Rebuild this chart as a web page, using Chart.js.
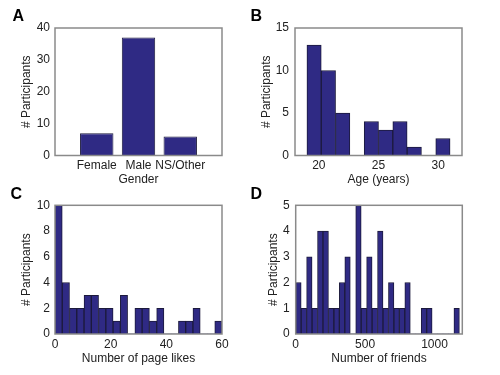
<!DOCTYPE html>
<html><head><meta charset="utf-8">
<script src="https://cdn.jsdelivr.net/npm/chart.js@4"></script>
<style>
html,body{margin:0;padding:0;background:#fff;}
#wrap{position:relative;width:500px;height:375px;overflow:hidden;background:#fff;}
canvas{position:absolute;}
.lbl{position:absolute;font:bold 16px "Liberation Sans",Arial,sans-serif;color:#000;line-height:1;}
</style></head><body>
<div id="wrap">
<canvas id="cA" width="250" height="190" style="left:0;top:0"></canvas>
<canvas id="cB" width="250" height="190" style="left:250px;top:0"></canvas>
<canvas id="cC" width="250" height="185" style="left:0;top:190px"></canvas>
<canvas id="cD" width="250" height="185" style="left:250px;top:190px"></canvas>
<div class="lbl" style="left:12.5px;top:8px">A</div>
<div class="lbl" style="left:250.5px;top:8px">B</div>
<div class="lbl" style="left:10.5px;top:186px">C</div>
<div class="lbl" style="left:250.5px;top:186px">D</div>
</div>
<script>
// ---- Data ----
const genderCategories = ['Female', 'Male', 'NS/Other'];
const genderPositions = [1, 2, 3];
const genderCounts = [7, 37, 6];
const genderYTicks = [0, 10, 20, 30, 40];

const ageBinCenters = [19.6, 20.8, 22.0, 23.2, 24.4, 25.6, 26.8, 28.0, 29.2, 30.4];
const ageCounts = [13, 10, 5, 0, 4, 3, 4, 1, 0, 2];
const ageXTicks = [20, 25, 30];
const ageYTicks = [0, 5, 10, 15];

const likesBinCenters = [1.3, 3.91, 6.52, 9.13, 11.74, 14.35, 16.96, 19.57, 22.17, 24.78, 27.39, 30.0,
  32.61, 35.22, 37.83, 40.43, 43.04, 45.65, 48.26, 50.87, 53.48, 56.09, 58.7];
const likesCounts = [10, 4, 2, 2, 3, 3, 2, 2, 1, 3, 0, 2, 2, 1, 2, 0, 0, 1, 1, 2, 0, 0, 1];
const likesXTicks = [0, 20, 40, 60];
const likesYTicks = [0, 2, 4, 6, 8, 10];

const friendsBinCenters = [19.7, 59, 98.3, 137.6, 176.9, 216.2, 255.5, 294.8, 334.1, 373.4, 412.7, 452,
  491.3, 530.6, 569.9, 609.2, 648.5, 687.8, 727.1, 766.4, 805.7, 845, 884.3, 923.6, 962.9, 1002.2,
  1041.5, 1080.8, 1120.1, 1159.4];
const friendsCounts = [2, 1, 3, 1, 4, 4, 1, 1, 2, 3, 0, 5, 1, 3, 1, 4, 1, 2, 1, 1, 2, 0, 0, 1, 1, 0, 0, 0, 0, 1];
const friendsXTicks = [0, 500, 1000];
const friendsYTicks = [0, 1, 2, 3, 4, 5];

// ---- Styling ----
const BAR = '#2f2a84';
const EDGE = '#1c1a3c';
const TXT = '#222';
const FONT = {family: '"Liberation Sans", Arial, Helvetica, sans-serif', size: 12};

const framePlugin = {
  id: 'frame',
  afterDatasetsDraw(chart) {
    const a = chart.chartArea, ctx = chart.ctx;
    ctx.save();
    ctx.strokeStyle = '#8a8a8a';
    ctx.lineWidth = 1.5;
    ctx.strokeRect(a.left, a.top, a.right - a.left, a.bottom - a.top);
    ctx.restore();
  }
};

function makePanel(id, p) {
  const data = p.centers.map((c, i) => ({x: c, y: p.counts[i]}));
  return new Chart(document.getElementById(id), {
    type: 'bar',
    data: {datasets: [{
      data,
      backgroundColor: BAR,
      borderColor: EDGE,
      borderWidth: (c) => (c.raw && c.raw.y > 0 ? 1 : 0),
      barPercentage: p.barPct,
      categoryPercentage: 1
    }]},
    options: {
      responsive: false,
      animation: false,
      layout: {padding: {left: 0, top: p.top, right: p.right, bottom: 0}},
      plugins: {legend: {display: false}, tooltip: {enabled: false}},
      scales: {
        x: {
          type: 'linear', min: p.xMin, max: p.xMax, offset: false,
          grid: {display: false, drawTicks: false},
          border: {display: false},
          ticks: {color: TXT, font: FONT, padding: p.xTickPad, maxRotation: 0, autoSkip: false,
                  callback: p.xLabel || ((v) => String(v))},
          afterBuildTicks: (s) => { s.ticks = p.xTicks.map((v) => ({value: v})); },
          afterFit: (s) => { s.height = p.xH; },
          title: {display: true, text: p.xTitle, color: TXT, font: FONT,
                  padding: {top: 0, bottom: p.xTitlePad}}
        },
        y: {
          min: 0, max: p.yMax,
          grid: {display: false, drawTicks: false},
          border: {display: false},
          ticks: {color: TXT, font: FONT, padding: p.yTickPad, callback: (v) => String(v)},
          afterBuildTicks: (s) => { s.ticks = p.yTicks.map((v) => ({value: v})); },
          afterFit: (s) => { s.width = p.yW; },
          title: {display: true, text: '# Participants', color: TXT, font: FONT,
                  padding: {top: p.yTitlePad, bottom: 0}}
        }
      }
    },
    plugins: [framePlugin]
  });
}

makePanel('cA', {
  centers: genderPositions, counts: genderCounts, barPct: 0.8,
  xMin: 0, xMax: 4, xTicks: genderPositions,
  xLabel: (v) => genderCategories[genderPositions.indexOf(v)],
  xTitle: 'Gender', yMax: 40, yTicks: genderYTicks,
  top: 28, right: 28, yW: 55, xH: 34.5,
  xTickPad: 3, xTitlePad: 2.8, yTickPad: 5, yTitlePad: 19
});
makePanel('cB', {
  centers: ageBinCenters, counts: ageCounts, barPct: 1,
  xMin: 18, xMax: 32, xTicks: ageXTicks,
  xTitle: 'Age (years)', yMax: 15, yTicks: ageYTicks,
  top: 28, right: 38, yW: 45, xH: 34.5,
  xTickPad: 3, xTitlePad: 2.8, yTickPad: 6, yTitlePad: 9.5
});
makePanel('cC', {
  centers: likesBinCenters, counts: likesCounts, barPct: 1,
  xMin: 0, xMax: 60, xTicks: likesXTicks,
  xTitle: 'Number of page likes', yMax: 10, yTicks: likesYTicks,
  top: 15.3, right: 28, yW: 55, xH: 41,
  xTickPad: 3.8, xTitlePad: 9.5, yTickPad: 5, yTitlePad: 19.5
});
makePanel('cD', {
  centers: friendsBinCenters, counts: friendsCounts, barPct: 1,
  xMin: 0, xMax: 1200, xTicks: friendsXTicks,
  xTitle: 'Number of friends', yMax: 5, yTicks: friendsYTicks,
  top: 15.3, right: 37.7, yW: 45.7, xH: 41,
  xTickPad: 3.8, xTitlePad: 9.5, yTickPad: 6, yTitlePad: 16
});
</script>
</body></html>
